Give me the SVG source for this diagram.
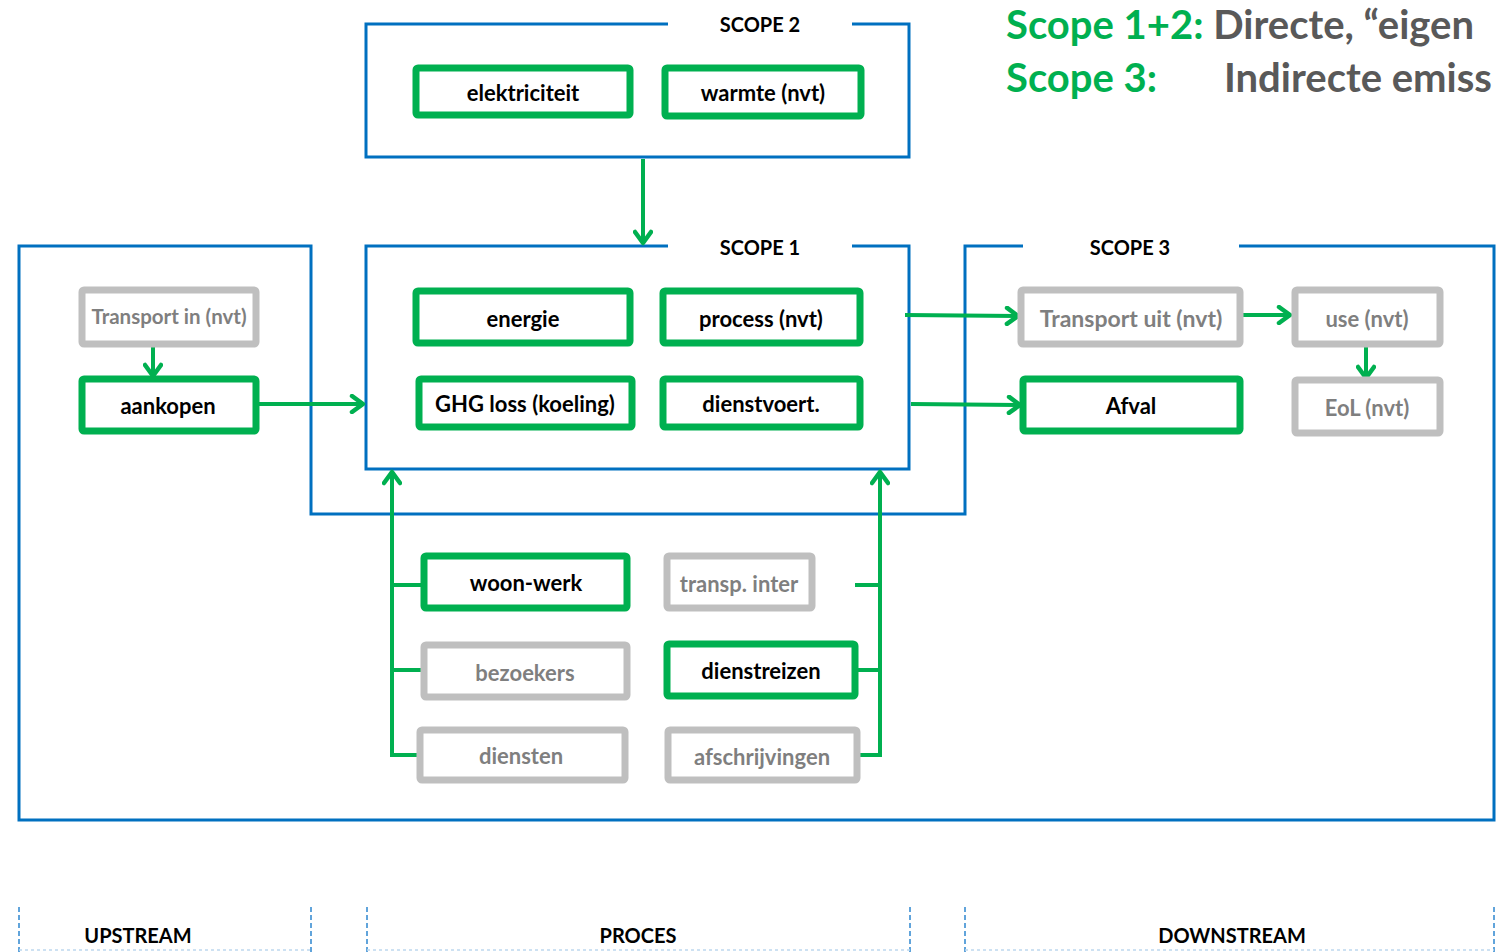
<svg xmlns="http://www.w3.org/2000/svg" width="1496" height="952" viewBox="0 0 1496 952">
<defs>
<marker id="arr" viewBox="0 0 20 20" refX="18" refY="10" markerWidth="20" markerHeight="20" markerUnits="userSpaceOnUse" orient="auto">
<polyline points="6,2 17,10 6,18" fill="none" stroke="#00B050" stroke-width="4.5" stroke-linecap="round" stroke-linejoin="round"/>
</marker>
<style>
.frame{fill:none;stroke:#0070C0;stroke-width:3}
.g{fill:#fff;stroke:#00B050;stroke-width:7}
.y{fill:#fff;stroke:#BFBFBF;stroke-width:7}
.t{font-family:Lato,"Noto Sans",sans-serif;font-weight:bold;font-size:22px;text-anchor:middle;dominant-baseline:central;fill:#000}
.ty{fill:#7F7F7F}
.c{fill:none;stroke:#00B050;stroke-width:4}
.lbl{font-family:Lato,"Noto Sans",sans-serif;font-weight:bold;font-size:20px;text-anchor:middle;fill:#000}
.dash{stroke:#2E86D0;stroke-width:1.5;stroke-dasharray:5 3}
.dot{stroke:#BDD7EE;stroke-width:1.5;stroke-dasharray:3 3}
</style>
</defs>
<rect width="1496" height="952" fill="#fff"/>

<g id="frames">
<path class="frame" d="M668 24 H366 V157 H909 V24 H852"/>
<path class="frame" d="M668 246 H366 V469 H909 V246 H852"/>
<path class="frame" d="M1023 246 H965 V514 H311 V246 H19 V820 H1494 V246 H1239"/>
<text class="lbl" x="760" y="32">SCOPE 2</text>
<text class="lbl" x="760" y="255">SCOPE 1</text>
<text class="lbl" x="1130" y="255">SCOPE 3</text>
</g>

<g id="legend" font-family="Lato,'Noto Sans',sans-serif" font-weight="bold" font-size="40">
<text x="1006" y="39"><tspan fill="#00B050">Scope 1+2:</tspan><tspan fill="#595959"> Directe, “eigen</tspan></text>
<text x="1006" y="92" fill="#00B050">Scope 3:</text>
<text x="1224" y="92" fill="#595959">Indirecte emiss</text>
</g>

<g id="connectors">
<line class="c" x1="643" y1="159" x2="643" y2="244" marker-end="url(#arr)"/>
<line class="c" x1="153" y1="346" x2="153" y2="377" marker-end="url(#arr)"/>
<line class="c" x1="259" y1="404" x2="364" y2="404" marker-end="url(#arr)"/>
<line class="c" x1="905" y1="315" x2="1019" y2="316" marker-end="url(#arr)"/>
<line class="c" x1="911" y1="404" x2="1021" y2="405" marker-end="url(#arr)"/>
<line class="c" x1="1243" y1="315" x2="1291" y2="315" marker-end="url(#arr)"/>
<line class="c" x1="1366" y1="346" x2="1366" y2="379" marker-end="url(#arr)"/>
<polyline class="c" points="419,755 392,755 392,471" marker-end="url(#arr)"/>
<line class="c" x1="392" y1="585" x2="423" y2="585"/>
<line class="c" x1="392" y1="670" x2="423" y2="670"/>
<polyline class="c" points="859,755 880,755 880,471" marker-end="url(#arr)"/>
<line class="c" x1="855" y1="585" x2="880" y2="585"/>
<line class="c" x1="858" y1="670" x2="880" y2="670"/>
</g>

<g id="elektriciteit"><rect class="g" x="416" y="68" width="214" height="47" rx="2"/><text class="t" x="523" y="92">elektriciteit</text></g>
<g id="warmte"><rect class="g" x="665" y="68" width="196" height="48" rx="2"/><text class="t" x="763" y="92">warmte (nvt)</text></g>
<g id="energie"><rect class="g" x="416" y="291" width="214" height="52" rx="2"/><text class="t" x="523" y="318">energie</text></g>
<g id="process"><rect class="g" x="663" y="291" width="197" height="52" rx="2"/><text class="t" x="761" y="318">process (nvt)</text></g>
<g id="ghg"><rect class="g" x="419" y="379" width="213" height="48" rx="2"/><text class="t" x="525" y="403">GHG loss (koeling)</text></g>
<g id="dienstvoert"><rect class="g" x="663" y="379" width="197" height="48" rx="2"/><text class="t" x="761" y="403">dienstvoert.</text></g>
<g id="transport-in"><rect class="y" x="82" y="290" width="174" height="54" rx="2"/><text class="t ty" x="169" y="316" style="font-size:20.5px">Transport in (nvt)</text></g>
<g id="aankopen"><rect class="g" x="82" y="379" width="174" height="52" rx="2"/><text class="t" x="168" y="405">aankopen</text></g>
<g id="transport-uit"><rect class="y" x="1021" y="290" width="219" height="54" rx="2"/><text class="t ty" x="1131" y="318" style="font-size:23px">Transport uit (nvt)</text></g>
<g id="use"><rect class="y" x="1295" y="290" width="145" height="54" rx="2"/><text class="t ty" x="1367" y="318">use (nvt)</text></g>
<g id="afval"><rect class="g" x="1023" y="379" width="217" height="52" rx="2"/><text class="t" x="1131" y="405">Afval</text></g>
<g id="eol"><rect class="y" x="1295" y="380" width="145" height="53" rx="2"/><text class="t ty" x="1367" y="407">EoL (nvt)</text></g>
<g id="woon-werk"><rect class="g" x="424" y="556" width="203" height="52" rx="2"/><text class="t" x="526" y="582">woon-werk</text></g>
<g id="transp-inter"><rect class="y" x="667" y="556" width="145" height="52" rx="2"/><text class="t ty" x="739" y="583">transp. inter</text></g>
<g id="bezoekers"><rect class="y" x="424" y="645" width="203" height="52" rx="2"/><text class="t ty" x="525" y="672">bezoekers</text></g>
<g id="dienstreizen"><rect class="g" x="667" y="644" width="188" height="52" rx="2"/><text class="t" x="761" y="670">dienstreizen</text></g>
<g id="diensten"><rect class="y" x="420" y="730" width="205" height="50" rx="2"/><text class="t ty" x="521" y="755">diensten</text></g>
<g id="afschrijvingen"><rect class="y" x="668" y="730" width="189" height="50" rx="2"/><text class="t ty" x="762" y="756">afschrijvingen</text></g>

<g id="stream-bar">
<line class="dash" x1="19" y1="907" x2="19" y2="952"/>
<line class="dash" x1="311" y1="907" x2="311" y2="952"/>
<line class="dash" x1="367" y1="907" x2="367" y2="952"/>
<line class="dash" x1="910" y1="907" x2="910" y2="952"/>
<line class="dash" x1="965" y1="907" x2="965" y2="952"/>
<line class="dash" x1="1494" y1="907" x2="1494" y2="952"/>
<line class="dot" x1="19" y1="950" x2="311" y2="950"/>
<line class="dot" x1="367" y1="950" x2="910" y2="950"/>
<line class="dot" x1="965" y1="950" x2="1494" y2="950"/>
<text class="lbl" x="138" y="943">UPSTREAM</text>
<text class="lbl" x="638" y="943">PROCES</text>
<text class="lbl" x="1232" y="943">DOWNSTREAM</text>
</g>
</svg>
